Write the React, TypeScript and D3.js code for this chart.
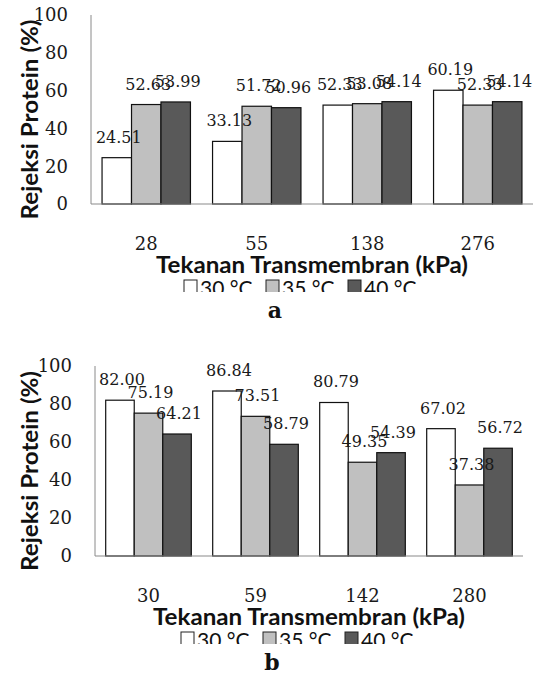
import React from "react";
import * as d3 from "d3";

// data
const seriesNames = ["30 °C", "35 °C", "40 °C"];
const seriesColors = ["#ffffff", "#c0c0c0", "#595959"];
const yTicks = [0, 20, 40, 60, 80, 100];

const catsA = ["28", "55", "138", "276"];
const a30 = [24.51, 33.13, 52.33, 60.19];
const a35 = [52.63, 51.72, 53.08, 52.33];
const a40 = [53.99, 50.96, 54.14, 54.14];

const catsB = ["30", "59", "142", "280"];
const b30 = [82.0, 86.84, 80.79, 67.02];
const b35 = [75.19, 73.51, 49.35, 37.38];
const b40 = [64.21, 58.79, 54.39, 56.72];

const fmt = d3.format(".2f");
const serif = "'DejaVu Serif', serif";
const sans = "Lato, 'Open Sans', sans-serif";

type PanelProps = {
  id: string;
  cats: string[];
  series: number[][];
  left: number;
  right: number;
  top: number;
  bottom: number;
  letter: string;
};

function Panel({ id, cats, series, left, right, top, bottom, letter }: PanelProps) {
  const x0 = d3.scaleBand<string>().domain(cats).range([left, right])
    .paddingInner(0.2).paddingOuter(0.1);
  const x1 = d3.scaleBand<number>().domain(d3.range(series.length))
    .range([0, x0.bandwidth()]);
  const y = d3.scaleLinear().domain([0, 100]).range([bottom, top]);
  const mid = (left + right) / 2;

  const legendY = bottom + 76;
  const clipY = bottom + 88;

  return (
    <g>
      <defs>
        <clipPath id={"clip-" + id}>
          <rect x={0} y={0} width={547} height={clipY} />
        </clipPath>
      </defs>

      {/* y axis */}
      <line x1={left} x2={left} y1={top} y2={bottom} stroke="#8a8a8a" strokeWidth={1} />
      {yTicks.map((t) => (
        <text key={t} x={left - 23} y={y(t)} dy="0.35em" textAnchor="end"
          fontFamily={serif} fontSize={18} fill="#1a1a1a">{t}</text>
      ))}
      <text transform={`translate(30,${(top + bottom) / 2 + 10}) rotate(-90)`}
        textAnchor="middle" dy="0.35em" fontFamily={sans} fontWeight="bold"
        fontSize={23} fill="#111" textLength={200} lengthAdjust="spacingAndGlyphs">
        Rejeksi Protein (%)
      </text>

      {/* bars */}
      {cats.map((c, i) => (
        <g key={c} transform={`translate(${x0(c)},0)`}>
          {series.map((s, k) => (
            <rect key={k} x={x1(k)} y={y(s[i])} width={x1.bandwidth()}
              height={y(0) - y(s[i])} fill={seriesColors[k]}
              stroke="#111" strokeWidth={1.2} />
          ))}
          {series.map((s, k) => (
            <text key={"l" + k} x={(x1(k) as number) + x1.bandwidth() / 2 + 2}
              y={y(s[i]) - 15} textAnchor="middle" fontFamily={serif}
              fontSize={16} fill="#1a1a1a">{fmt(s[i])}</text>
          ))}
        </g>
      ))}

      {/* x axis */}
      <line x1={left} x2={right} y1={bottom} y2={bottom} stroke="#8a8a8a" strokeWidth={1.2} />
      {cats.map((c) => (
        <text key={c} x={(x0(c) as number) + x0.bandwidth() / 2} y={bottom + 40}
          dy="0.35em" textAnchor="middle" fontFamily={serif} fontSize={18}
          fill="#1a1a1a">{c}</text>
      ))}
      <text x={mid} y={bottom + 69} textAnchor="middle" fontFamily={sans}
        fontWeight="bold" fontSize={23} fill="#111" textLength={312}
        lengthAdjust="spacingAndGlyphs">Tekanan Transmembran (kPa)</text>

      {/* legend, cut off at the bottom as in the source */}
      <g clipPath={`url(#clip-${id})`}>
        {seriesNames.map((n, k) => {
          const lx = mid - 128 + k * 82;
          return (
            <g key={n}>
              <rect x={lx} y={legendY} width={13} height={13} fill={seriesColors[k]}
                stroke="#222" strokeWidth={1} />
              <text x={lx + 16} y={legendY + 16} fontFamily={sans} fontSize={21}
                fill="#111">{n}</text>
            </g>
          );
        })}
      </g>

      <text x={mid - 37} y={bottom + 114} textAnchor="middle" fontFamily={serif}
        fontWeight="bold" fontSize={22} fill="#111">{letter}</text>
    </g>
  );
}

export default function App() {
  return (
    <svg width={547} height={684}
      style={{ position: "absolute", left: 0, top: 0, background: "#fff" }}>
      <Panel id="a" cats={catsA} series={[a30, a35, a40]}
        left={91} right={533} top={15} bottom={204} letter="a" />
      <Panel id="b" cats={catsB} series={[b30, b35, b40]}
        left={95} right={523} top={366} bottom={556} letter="b" />
    </svg>
  );
}
